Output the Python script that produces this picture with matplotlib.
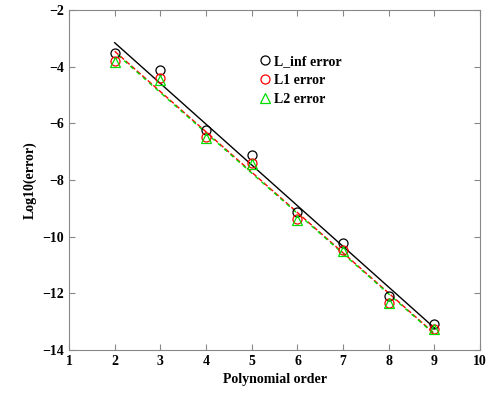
import numpy as np
import matplotlib
matplotlib.use('agg')
import matplotlib.pyplot as plt

# data
order = [2, 3, 4, 5, 6, 7, 8, 9]
linf_err = [-3.52, -4.12, -6.24, -7.12, -9.14, -10.23, -12.10, -13.08]
l1_err = [-3.80, -4.42, -6.50, -7.40, -9.38, -10.46, -12.33, -13.25]
l2_err = [-3.84, -4.47, -6.53, -7.43, -9.40, -10.50, -12.36, -13.28]

plt.rcParams['font.family'] = ['Liberation Serif', 'DejaVu Serif']
plt.rcParams['font.weight'] = 'bold'

fig = plt.figure(figsize=(4.93, 3.94), dpi=100)
ax = fig.add_axes([0.14, 0.112, 0.834, 0.863])

x = np.array(order)
xs = np.array([2, 9])

# least squares fit lines
for vals, col, ls in [(linf_err, 'black', '-'), (l1_err, 'red', '--'), (l2_err, '#00dd00', (3, (3, 3)))]:
    p = np.polyfit(x, vals, 1)
    ax.plot(xs, np.polyval(p, xs), color=col, lw=1.0, ls=ls)

ax.plot(x, linf_err, 'o', mfc='none', mec='black', ms=6.5, mew=0.9, ls='none', label='L_inf error')
ax.plot(x, l1_err, 'o', mfc='none', mec='red', ms=6.5, mew=0.9, ls='none', label='L1 error')
ax.plot(x, l2_err, '^', mfc='none', mec='#00dd00', ms=6.5, mew=0.9, ls='none', label='L2 error')

ax.set_xlim(1, 10)
ax.set_ylim(-14, -2)
ax.set_xticks(range(1, 11))
ax.set_yticks(range(-14, -1, 2))
ax.tick_params(direction='in', top=True, right=True, labelsize=10, length=4, color='#888888')
for lab in ax.get_xticklabels() + ax.get_yticklabels():
    lab.set_fontweight('bold')
for s in ax.spines.values():
    s.set_color('#888888')

ax.set_xlabel('Polynomial order', fontsize=10, fontweight='bold')
ax.set_ylabel('Log10(error)', fontsize=10, fontweight='bold')

leg = ax.legend(loc='upper left', bbox_to_anchor=(0.43, 0.905), frameon=False,
                handletextpad=0.1, handlelength=1.0, labelspacing=0.45,
                prop={'size': 10, 'weight': 'bold'})

plt.savefig('out.png', dpi=100)
